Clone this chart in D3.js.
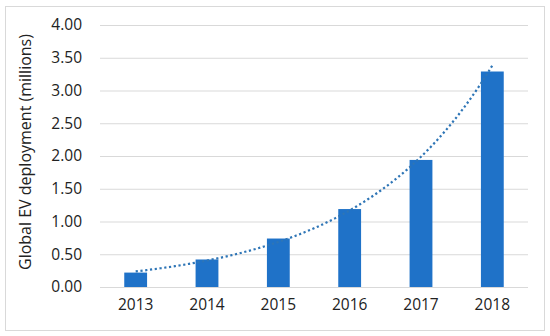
<!DOCTYPE html>
<html>
<head>
<meta charset="utf-8">
<script src="https://cdn.jsdelivr.net/npm/d3@7"></script>
<style>
    body { margin: 0; background: #fff; }
    svg { display: block; font-family: "Open Sans", sans-serif; }
</style>
</head>
<body>
<svg id="chart" width="550" height="336"></svg>
<script>
const years = ['2013', '2014', '2015', '2016', '2017', '2018'];
const deployment = [0.22, 0.42, 0.74, 1.19, 1.94, 3.29];
const yTicks = [0, 0.5, 1, 1.5, 2, 2.5, 3, 3.5, 4];

const margin = { top: 25, right: 22, bottom: 49, left: 100 };
const W = 550, H = 336;
const width = W - margin.left - margin.right;
const height = H - margin.top - margin.bottom;

const svg = d3.select('#chart');

// Outer frame
svg.append('rect')
    .attr('x', 5.5).attr('y', 6.5)
    .attr('width', 539).attr('height', 324)
    .attr('fill', '#fff')
    .attr('stroke', '#d9d9d9');

const g = svg.append('g')
    .attr('transform', `translate(${margin.left},${margin.top})`);

const x = d3.scaleBand().domain(years).range([0, width]).paddingInner(0.68).paddingOuter(0.34);
const y = d3.scaleLinear().domain([0, 4]).range([height, 0]);

// Grid lines
g.append('g')
    .call(d3.axisLeft(y).tickValues(yTicks).tickSize(-width).tickFormat(''))
    .call(a => a.select('.domain').remove())
    .selectAll('line').attr('stroke', '#d9d9d9').attr('stroke-width', 1);

// Y tick labels
g.append('g')
    .call(d3.axisLeft(y).tickValues(yTicks).tickSize(0).tickPadding(18).tickFormat(d3.format('.2f')))
    .call(a => a.select('.domain').remove())
    .selectAll('text')
    .attr('font-size', '15.5px')
    .attr('font-family', '"Open Sans", sans-serif')
    .attr('fill', '#222');

// Bars
g.selectAll('.bar')
    .data(years)
    .enter()
    .append('rect')
    .attr('class', 'bar')
    .attr('x', d => x(d))
    .attr('width', x.bandwidth())
    .attr('y', (d, i) => y(deployment[i]))
    .attr('height', (d, i) => height - y(deployment[i]))
    .attr('fill', '#1f72c8');

// X axis labels
g.append('g')
    .attr('transform', `translate(0,${height})`)
    .call(d3.axisBottom(x).tickSize(0).tickPadding(12))
    .call(a => a.select('.domain').remove())
    .selectAll('text')
    .attr('font-size', '15.5px')
    .attr('font-family', '"Open Sans", sans-serif')
    .attr('fill', '#222');

// Exponential trendline (least squares on ln y)
const n = deployment.length;
const xs = d3.range(1, n + 1);
const ls = deployment.map(v => Math.log(v));
const mx = d3.mean(xs), ml = d3.mean(ls);
const b = d3.sum(xs, (v, i) => (v - mx) * (ls[i] - ml)) / d3.sum(xs, v => (v - mx) ** 2);
const a0 = ml - b * mx;
const trend = d3.range(1, n + 0.001, 0.05).map(t => [t, Math.exp(a0 + b * t)]);

const step = x.step();
const xPos = t => x(years[0]) + x.bandwidth() / 2 + (t - 1) * step;

g.append('path')
    .datum(trend)
    .attr('fill', 'none')
    .attr('stroke', '#2e75b6')
    .attr('stroke-width', 2.2)
    .attr('stroke-dasharray', '2.2,2.6')
    .attr('d', d3.line().x(d => xPos(d[0])).y(d => y(d[1])));

// Y axis title
svg.append('text')
    .attr('transform', 'rotate(-90)')
    .attr('x', -152)
    .attr('y', 31)
    .attr('text-anchor', 'middle')
    .attr('font-size', '16px')
    .attr('fill', '#222')
    .text('Global EV deployment (millions)');
</script>
</body>
</html>
